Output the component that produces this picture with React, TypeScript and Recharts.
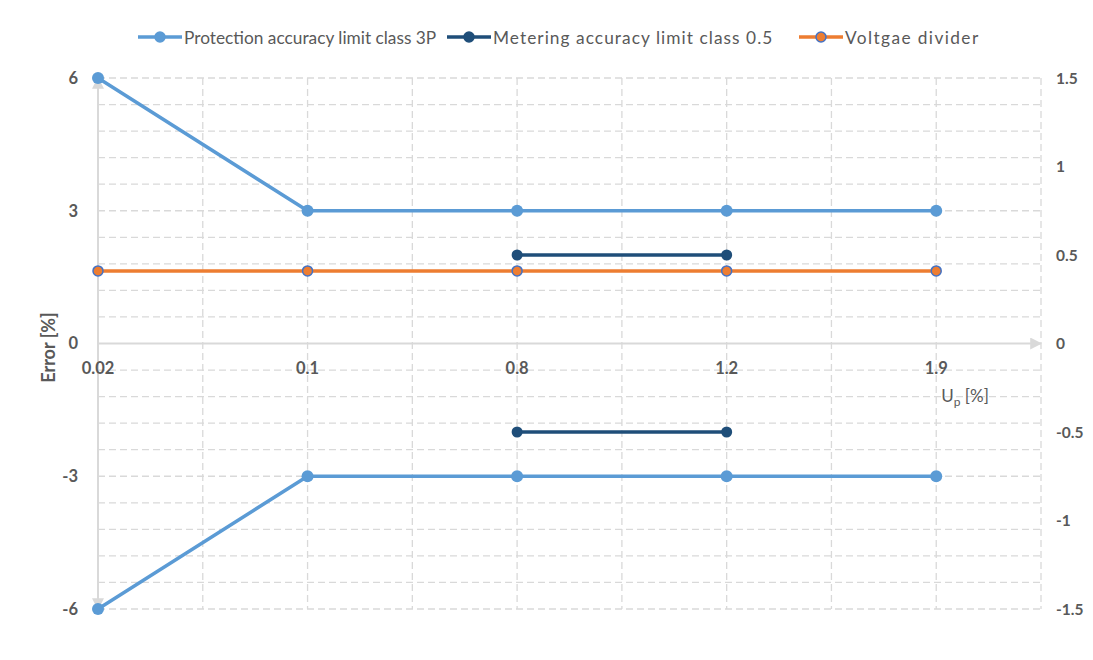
import { LineChart, Line, XAxis, YAxis, CartesianGrid, ReferenceLine } from 'recharts';

const categories = ['0.02', '0.1', '0.8', '1.2', '1.9'];
const protectionUpper = [6, 3, 3, 3, 3];
const protectionLower = [-6, -3, -3, -3, -3];
const meteringUpper = [null, null, 0.5, 0.5, null];
const meteringLower = [null, null, -0.5, -0.5, null];
const voltageDivider = [0.41, 0.41, 0.41, 0.41, 0.41];

const leftTicks = [-6, -3, 0, 3, 6];
const rightTicks = [-1.5, -1, -0.5, 0, 0.5, 1, 1.5];
const gridRows = [-6, -5.4, -4.8, -4.2, -3.6, -3, -2.4, -1.8, -1.2, -0.6, 0.6, 1.2, 1.8, 2.4, 3, 3.6, 4.2, 4.8, 5.4, 6];
const gridCols = [0.5, 1, 1.5, 2, 2.5, 3, 3.5, 4, 4.5];

const data = categories.map((c, i) => ({
  i,
  cat: c,
  protUp: protectionUpper[i],
  protLow: protectionLower[i],
  meterUp: meteringUpper[i],
  meterLow: meteringLower[i],
  divider: voltageDivider[i],
}));

const FONT = 'Lato, "Open Sans", sans-serif';
const GRAY = '#595959';
const AXIS = '#d9d9d9';
const BLUE = '#5b9bd5';
const NAVY = '#1f4e79';
const ORANGE = '#ed7d31';

const legendItems = [
  { name: 'Protection accuracy limit class 3P', color: BLUE, dot: BLUE, ring: BLUE, left: 130, ls: 0 },
  { name: 'Metering accuracy limit class 0.5', color: NAVY, dot: NAVY, ring: NAVY, left: 439, ls: 1.05 },
  { name: 'Voltgae divider', color: ORANGE, dot: ORANGE, ring: '#4472c4', left: 791, ls: 1.4 },
];

function CatLabel({ viewBox, value }: any) {
  const { x, y, height } = viewBox;
  return (
    <text x={x} y={y + height / 2 + 24} textAnchor="middle" dominantBaseline="central"
      fill={GRAY} fontSize={16.5} fontWeight={700} fontFamily={FONT}>
      {value}
    </text>
  );
}

function UpLabel({ viewBox }: any) {
  const { x, y, height } = viewBox;
  return (
    <text x={x + 5} y={y + height / 2 + 58} fill={GRAY} fontSize={17} fontFamily={FONT}>
      U<tspan dy={4} fontSize={12}>p</tspan><tspan dy={-4}> [%]</tspan>
    </text>
  );
}

function ErrLabel({ viewBox }: any) {
  const { x, y, height } = viewBox;
  const cx = x + 40;
  const cy = y + height / 2 + 4;
  return (
    <text x={cx} y={cy} transform={`rotate(-90, ${cx}, ${cy})`} textAnchor="middle" dominantBaseline="central"
      fill={GRAY} fontSize={18} fontWeight={700} fontFamily={FONT}>
      Error [%]
    </text>
  );
}

export default function App() {
  return (
    <div style={{ position: 'relative', width: 1077, height: 640, outline: `1px solid ${AXIS}`, fontFamily: FONT }}>
      <style>{'html,body{overflow:hidden}'}</style>
      {/* legend */}
      {legendItems.map((it) => (
        <div key={it.name} style={{ position: 'absolute', left: it.left, top: 18, height: 22, display: 'flex', alignItems: 'center', whiteSpace: 'nowrap' }}>
          <svg width={44} height={14} style={{ marginRight: 2 }}>
            <line x1={0} y1={7} x2={44} y2={7} stroke={it.color} strokeWidth={3.5} />
            <circle cx={22} cy={7} r={5} fill={it.dot} stroke={it.ring} strokeWidth={1.5} />
          </svg>
          <span style={{ fontSize: 17.3, color: GRAY, letterSpacing: it.ls }}>{it.name}</span>
        </div>
      ))}
      <LineChart width={1085} height={640} data={data} margin={{ top: 70, right: 0, bottom: 39, left: 0 }}>
        <defs>
          <marker id="arrow" viewBox="0 0 10 10" refX="9" refY="5" markerWidth="6" markerHeight="6" markerUnits="strokeWidth" orient="auto-start-reverse">
            <path d="M0,0 L10,5 L0,10 z" fill={AXIS} />
          </marker>
        </defs>
        <XAxis dataKey="i" type="number" domain={[0, 4.5]} hide />
        <YAxis yAxisId="left" domain={[-6, 6]} ticks={leftTicks} width={90} axisLine={false} tickLine={false}
          tickSize={0} tickMargin={20}
          tick={{ fill: GRAY, fontSize: 16.5, fontWeight: 700, fontFamily: FONT }}
          label={<ErrLabel />} />
        <YAxis yAxisId="right" orientation="right" domain={[-1.5, 1.5]} ticks={rightTicks} width={52}
          axisLine={false} tickLine={false} tickSize={0} tickMargin={15}
          tick={{ fill: GRAY, fontSize: 15.5, fontWeight: 700, fontFamily: FONT }} />
        <CartesianGrid yAxisId="left" horizontalValues={gridRows} verticalValues={gridCols}
          stroke={AXIS} strokeDasharray="7 4" strokeWidth={1.3} />
        <ReferenceLine yAxisId="left" y={0} stroke={AXIS} strokeWidth={2} markerEnd="url(#arrow)" />
        <ReferenceLine yAxisId="left" x={0} stroke={AXIS} strokeWidth={2} markerStart="url(#arrow)" markerEnd="url(#arrow)" />
        {categories.map((c, i) => (
          <ReferenceLine key={c} yAxisId="left" x={i} stroke="none" label={<CatLabel value={c} />} />
        ))}
        <ReferenceLine yAxisId="left" x={4} stroke="none" label={<UpLabel />} />
        <Line yAxisId="left" dataKey="protUp" stroke={BLUE} strokeWidth={3.5} isAnimationActive={false}
          dot={{ r: 6, fill: BLUE, stroke: 'none' }} activeDot={false} />
        <Line yAxisId="left" dataKey="protLow" stroke={BLUE} strokeWidth={3.5} isAnimationActive={false}
          dot={{ r: 6, fill: BLUE, stroke: 'none' }} activeDot={false} />
        <Line yAxisId="right" dataKey="meterUp" stroke={NAVY} strokeWidth={3.5} isAnimationActive={false}
          dot={{ r: 5.5, fill: NAVY, stroke: 'none' }} activeDot={false} />
        <Line yAxisId="right" dataKey="meterLow" stroke={NAVY} strokeWidth={3.5} isAnimationActive={false}
          dot={{ r: 5.5, fill: NAVY, stroke: 'none' }} activeDot={false} />
        <Line yAxisId="right" dataKey="divider" stroke={ORANGE} strokeWidth={3.5} isAnimationActive={false}
          dot={{ r: 5, fill: ORANGE, stroke: '#4472c4', strokeWidth: 1.5 }} activeDot={false} />
      </LineChart>
    </div>
  );
}
